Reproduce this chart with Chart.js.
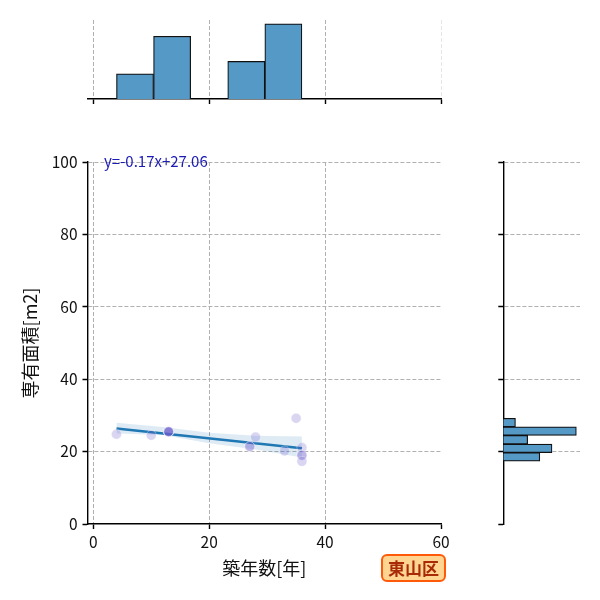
<!DOCTYPE html>
<html lang="ja">
<head>
<meta charset="utf-8">
<title>東山区 築年数と専有面積</title>
<script src="https://cdn.jsdelivr.net/npm/chart.js@4.4.1/dist/chart.umd.min.js"></script>
<style>
  html, body { margin: 0; padding: 0; background: #fff; }
  #wrap { position: relative; width: 600px; height: 600px; }
  #wrap canvas { position: absolute; left: 0; top: 0; }
</style>
</head>
<body>
<div id="wrap">
  <canvas id="mainChart" width="600" height="600"></canvas>
  <canvas id="topHist" width="600" height="600"></canvas>
  <canvas id="rightHist" width="600" height="600"></canvas>
</div>
<script>
// ============================================================
//  DONNÉES
// ============================================================
const ptsX = [4, 10, 13, 13, 13, 13, 13, 27, 27, 28, 33, 35, 36, 36, 36, 36];
const ptsY = [24.8, 24.5, 25.5, 25.5, 25.5, 25.5, 25.5, 21.4, 21.4, 24.0, 20.2, 29.2, 21.1, 19.0, 19.0, 17.3];

const lineX = [4, 36];
const lineY = [26.38, 20.94];

const bandX     = [4, 12, 20, 28, 36];
const bandUpper = [28.0, 26.8, 25.2, 24.4, 24.2];
const bandLower = [25.0, 24.6, 22.3, 20.6, 18.4];

const xBinEdges = [4, 10.4, 16.8, 23.2, 29.6, 36];
const xCounts   = [2, 5, 0, 3, 6];
const yBinEdges = [17.35, 19.72, 22.09, 24.46, 26.83, 29.2];
const yCounts   = [3, 4, 2, 6, 1];

const xTicks = [0, 20, 40, 60];
const yTicks = [0, 20, 40, 60, 80, 100];

const fitLabel  = 'y=-0.17x+27.06';
const areaLabel = '東山区';
const xTitle    = '築年数[年]';
const yTitle    = '専有面積[m2]';

// ============================================================
//  STYLES
// ============================================================
const FONT      = "'Noto Sans CJK JP', 'Noto Sans', sans-serif";
const GRID      = '#b0b0b0';
const HIST_BG   = '#5599c7';
const HIST_EDGE = '#111';

const AREA = { left: 87.5, right: 441, top: 162, bottom: 524 };

Chart.defaults.font.family = FONT;
Chart.defaults.color = '#111';
Chart.defaults.animation = false;
Chart.defaults.plugins.legend.display = false;
Chart.defaults.plugins.tooltip.enabled = false;

function centers(edges) {
  const out = [];
  for (let i = 0; i < edges.length - 1; i++) out.push((edges[i] + edges[i + 1]) / 2);
  return out;
}

function gridColor(hidden) {
  return (c) => (c.tick && hidden.includes(c.tick.value)) ? 'rgba(0,0,0,0)' : GRID;
}

function axisBits(hidden) {
  return {
    grid: { color: gridColor(hidden), lineWidth: 1, tickLength: 5, tickWidth: 1.4,
            tickColor: '#000', tickBorderDash: [1, 0], offset: false },
    border: { display: true, color: '#000', width: 1.4, dash: [4, 2] }
  };
}

// ============================================================
//  GRAPHIQUE PRINCIPAL — nuage + régression
// ============================================================
const labelsPlugin = {
  id: 'labels',
  afterDraw(chart) {
    const { ctx, chartArea } = chart;
    ctx.save();
    ctx.font = '15px ' + FONT;
    ctx.fillStyle = '#1c1cb4';
    ctx.textAlign = 'left';
    ctx.textBaseline = 'middle';
    ctx.fillText(fitLabel, chartArea.left + 16.5, chartArea.top - 1);

    const bx = chartArea.right - 59, by = chartArea.bottom + 31, bw = 63, bh = 26;
    ctx.beginPath();
    ctx.roundRect(bx, by, bw, bh, 5);
    ctx.fillStyle = '#ffd591';
    ctx.fill();
    ctx.lineWidth = 2;
    ctx.strokeStyle = '#ff5a0a';
    ctx.stroke();
    ctx.font = 'bold 17px ' + FONT;
    ctx.fillStyle = '#a82a08';
    ctx.textAlign = 'center';
    ctx.fillText(areaLabel, bx + bw / 2, by + bh / 2 + 1);
    ctx.restore();
  }
};

const mainX = axisBits([60]);
const mainY = axisBits([0]);

new Chart(document.getElementById('mainChart').getContext('2d'), {
  type: 'scatter',
  data: {
    datasets: [
      {
        data: ptsX.map((x, i) => ({ x: x, y: ptsY[i] })),
        pointRadius: 5,
        pointBackgroundColor: 'rgba(106,90,205,0.25)',
        pointBorderColor: 'rgba(255,255,255,0.35)',
        pointBorderWidth: 1,
        order: 0
      },
      {
        type: 'line',
        showLine: true,
        data: lineX.map((x, i) => ({ x: x, y: lineY[i] })),
        borderColor: '#1f77b4',
        borderWidth: 2.5,
        pointRadius: 0,
        fill: false,
        order: 1
      },
      {
        type: 'line',
        showLine: true,
        data: bandX.map((x, i) => ({ x: x, y: bandUpper[i] })),
        borderColor: 'rgba(0,0,0,0)',
        borderWidth: 0,
        backgroundColor: 'rgba(31,119,180,0.15)',
        pointRadius: 0,
        fill: '+1',
        order: 2
      },
      {
        type: 'line',
        showLine: true,
        data: bandX.map((x, i) => ({ x: x, y: bandLower[i] })),
        borderColor: 'rgba(0,0,0,0)',
        borderWidth: 0,
        pointRadius: 0,
        fill: false,
        order: 3
      }
    ]
  },
  options: {
    responsive: false,
    layout: { padding: { left: 0, top: AREA.top, right: 600 - AREA.right, bottom: 0 } },
    scales: {
      x: {
        type: 'linear', min: -1, max: 60,
        afterBuildTicks: (s) => { s.ticks = xTicks.map((v) => ({ value: v })); },
        afterFit: (s) => { s.height = 600 - AREA.bottom; },
        ticks: { font: { size: 15.5 }, color: '#111', padding: 4 },
        title: { display: true, text: xTitle, font: { size: 18 }, color: '#111', padding: { top: 0, bottom: 21 } },
        grid: mainX.grid, border: mainX.border
      },
      y: {
        type: 'linear', min: 0, max: 100,
        afterBuildTicks: (s) => { s.ticks = yTicks.map((v) => ({ value: v })); },
        afterFit: (s) => { s.width = AREA.left; },
        ticks: { font: { size: 15.5 }, color: '#111', padding: 5 },
        title: { display: true, text: yTitle, font: { size: 18 }, color: '#111', padding: { top: 19, bottom: 0 } },
        grid: mainY.grid, border: mainY.border
      }
    }
  },
  plugins: [labelsPlugin]
});

// ============================================================
//  HISTOGRAMME DU HAUT — 築年数
// ============================================================
const topX = axisBits([]);
topX.grid.color = (c) => (c.tick && c.tick.value === 60) ? '#e6e6e6' : GRID;

new Chart(document.getElementById('topHist').getContext('2d'), {
  type: 'bar',
  data: {
    datasets: [{
      data: centers(xBinEdges).map((c, i) => ({ x: c, y: xCounts[i] })),
      backgroundColor: HIST_BG,
      borderColor: HIST_EDGE,
      borderWidth: 1.2,
      barPercentage: 1,
      categoryPercentage: 1
    }]
  },
  options: {
    responsive: false,
    layout: { padding: { left: AREA.left, top: 20, right: 600 - AREA.right, bottom: 600 - 99 - 5 } },
    scales: {
      x: {
        type: 'linear', min: -1, max: 60, offset: false,
        afterBuildTicks: (s) => { s.ticks = xTicks.map((v) => ({ value: v })); },
        afterFit: (s) => { s.height = 5; },
        ticks: { display: false },
        grid: topX.grid, border: topX.border
      },
      y: { type: 'linear', display: false, min: 0, max: 6.3 }
    }
  }
});

// ============================================================
//  HISTOGRAMME DE DROITE — 専有面積
// ============================================================
const rightY = axisBits([0]);

new Chart(document.getElementById('rightHist').getContext('2d'), {
  type: 'bar',
  data: {
    datasets: [{
      data: centers(yBinEdges).map((c, i) => ({ x: yCounts[i], y: c })),
      backgroundColor: HIST_BG,
      borderColor: HIST_EDGE,
      borderWidth: 1.2,
      barPercentage: 1,
      categoryPercentage: 1
    }]
  },
  options: {
    responsive: false,
    indexAxis: 'y',
    layout: { padding: { left: 503.3 - 5, top: AREA.top, right: 20, bottom: 600 - AREA.bottom } },
    scales: {
      y: {
        type: 'linear', min: 0, max: 100, offset: false,
        afterBuildTicks: (s) => { s.ticks = yTicks.map((v) => ({ value: v })); },
        afterFit: (s) => { s.width = 5; },
        ticks: { display: false },
        grid: rightY.grid, border: rightY.border
      },
      x: { type: 'linear', display: false, min: 0, max: 6.3 }
    }
  }
});
</script>
</body>
</html>
